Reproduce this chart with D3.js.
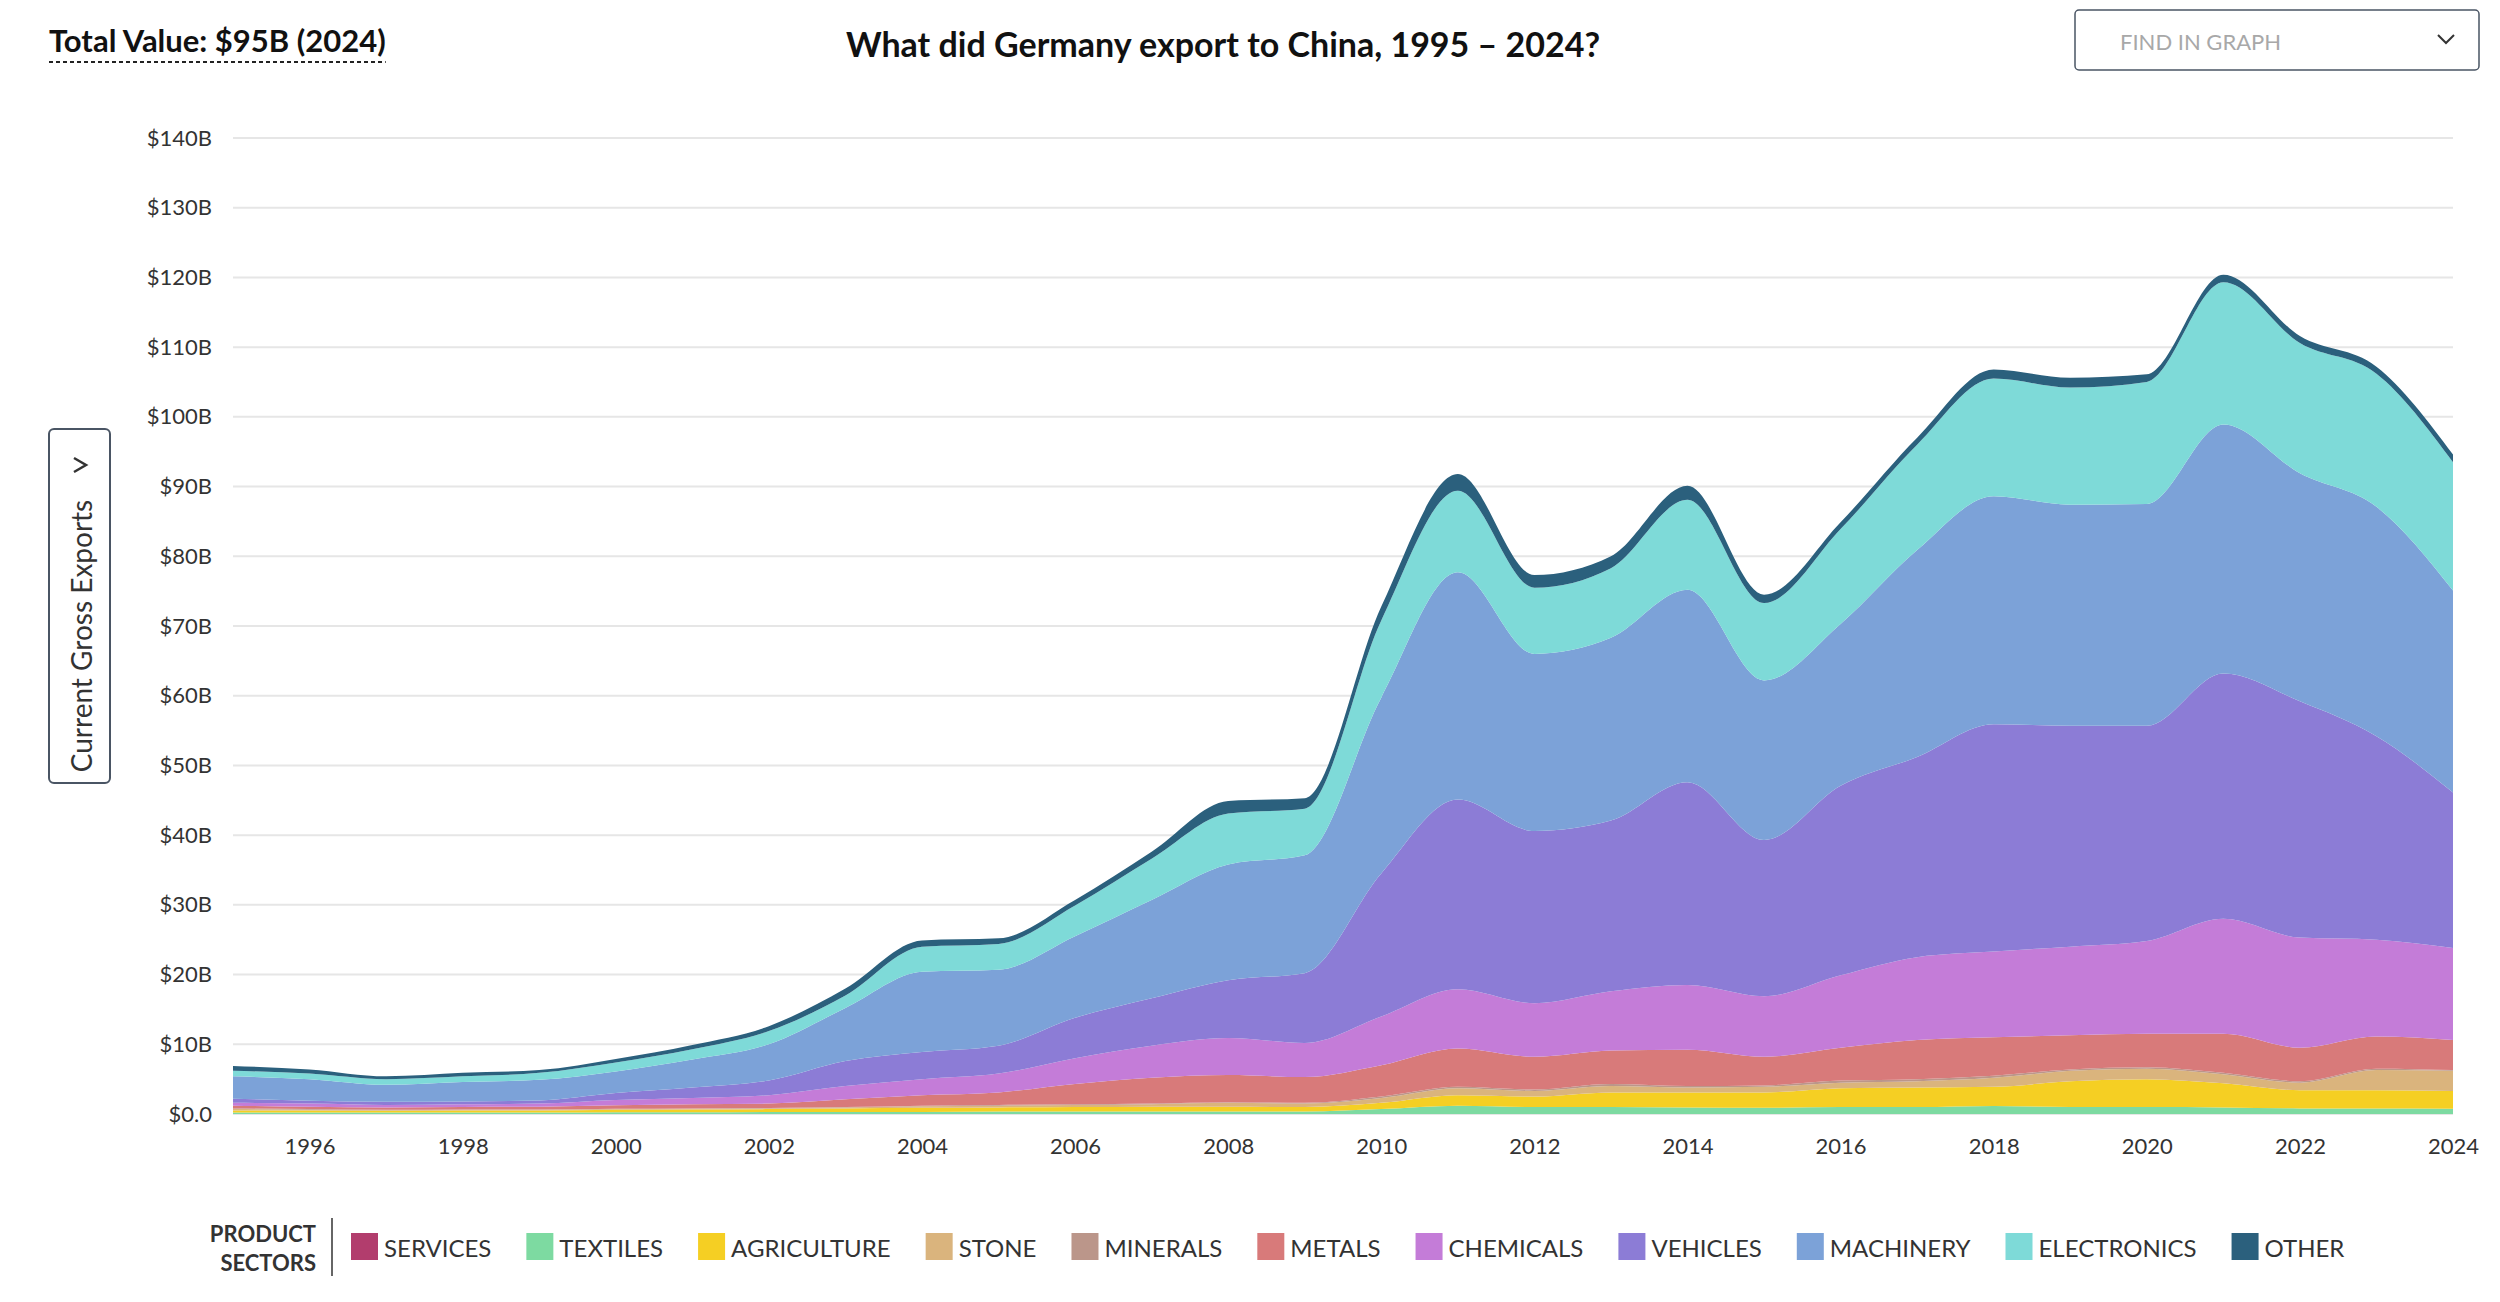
<!DOCTYPE html>
<html>
<head>
<meta charset="utf-8">
<script src="https://cdn.jsdelivr.net/npm/d3@7/dist/d3.min.js"></script>
<style>
  body { margin: 0; background: #fff; }
  text { font-family: Lato, "Open Sans", sans-serif; }
</style>
</head>
<body>
<svg id="chart" width="2500" height="1302"></svg>
<script>
// years on the x axis
var years = [1995, 1996, 1997, 1998, 1999, 2000, 2001, 2002, 2003, 2004,
             2005, 2006, 2007, 2008, 2009, 2010, 2011, 2012, 2013, 2014,
             2015, 2016, 2017, 2018, 2019, 2020, 2021, 2022, 2023, 2024];

// product sectors, bottom to top of the stack
var sectors = ["services", "textiles", "agriculture", "stone", "minerals", "metals",
               "chemicals", "vehicles", "machinery", "electronics", "other"];
var sectorLabels = ["SERVICES", "TEXTILES", "AGRICULTURE", "STONE", "MINERALS", "METALS",
                    "CHEMICALS", "VEHICLES", "MACHINERY", "ELECTRONICS", "OTHER"];
var sectorColors = ["#b23d6d", "#7ddaa1", "#f5cf23", "#dab47d", "#bb968a", "#d87a7a",
                    "#c47cd8", "#8c7cd6", "#7ca2d8", "#7edad8", "#2b607d"];

// export values per sector, $B
var services    = [0, 0, 0, 0, 0, 0, 0, 0, 0, 0, 0, 0, 0, 0, 0, 0, 0, 0, 0, 0, 0, 0, 0, 0, 0, 0, 0, 0, 0, 0];
var textiles    = [0.2, 0.2, 0.2, 0.2, 0.2, 0.25, 0.25, 0.3, 0.3, 0.3, 0.35, 0.35, 0.35, 0.35, 0.35,
                   0.7, 1.2, 1.0, 1.0, 0.95, 0.9, 1.0, 1.0, 1.15, 1.0, 1.0, 0.95, 0.8, 0.8, 0.75];
var agriculture = [0.3, 0.3, 0.25, 0.3, 0.3, 0.35, 0.4, 0.4, 0.5, 0.6, 0.6, 0.65, 0.7, 0.7, 0.65,
                   0.9, 1.5, 1.5, 2.1, 2.15, 2.2, 2.7, 2.8, 2.75, 3.7, 4.0, 3.45, 2.6, 2.6, 2.55];
var stone       = [0.2, 0.1, 0.1, 0.1, 0.1, 0.1, 0.1, 0.1, 0.15, 0.2, 0.25, 0.3, 0.35, 0.55, 0.5,
                   0.7, 1.0, 0.8, 0.9, 0.7, 0.8, 0.8, 0.9, 1.3, 1.5, 1.5, 1.3, 1.1, 2.9, 2.9];
var minerals    = [0.1, 0.1, 0.05, 0.05, 0.05, 0.05, 0.05, 0.05, 0.05, 0.1, 0.1, 0.1, 0.1, 0.1, 0.1,
                   0.2, 0.2, 0.2, 0.3, 0.2, 0.2, 0.3, 0.3, 0.3, 0.2, 0.2, 0.2, 0.2, 0.2, 0.1];
var metals      = [0.4, 0.35, 0.35, 0.35, 0.4, 0.5, 0.6, 0.65, 1.1, 1.5, 1.8, 2.9, 3.7, 3.9, 3.7,
                   4.5, 5.5, 4.7, 4.8, 5.2, 4.1, 4.7, 5.6, 5.5, 4.9, 4.8, 5.6, 4.8, 4.6, 4.3];
var chemicals   = [0.4, 0.45, 0.35, 0.4, 0.45, 0.75, 0.9, 1.2, 1.9, 2.3, 2.7, 3.7, 4.6, 5.3, 4.9,
                   7.0, 8.5, 7.7, 8.5, 9.3, 8.7, 10.4, 11.9, 12.3, 12.7, 13.3, 16.5, 15.8, 13.9, 13.2];
var vehicles    = [0.6, 0.4, 0.45, 0.4, 0.45, 1.0, 1.5, 2.1, 3.6, 3.9, 4.0, 5.8, 6.8, 8.3, 10.0,
                   20.5, 27.2, 24.7, 24.5, 29.1, 22.4, 27.2, 28.7, 32.6, 31.7, 30.9, 35.2, 33.9, 29.2, 22.3];
var machinery   = [3.2, 3.1, 2.45, 2.8, 2.95, 3.1, 4.0, 5.2, 7.6, 11.5, 10.9, 11.7, 14.1, 16.6, 16.9,
                   25.2, 32.6, 25.4, 26.2, 27.6, 22.9, 23.2, 29.7, 32.7, 31.7, 31.8, 35.7, 32.7, 32.9, 29.0];
var electronics = [0.8, 0.8, 0.8, 0.8, 1.0, 1.3, 1.5, 1.9, 1.8, 3.6, 3.7, 4.4, 5.9, 7.3, 6.7,
                   11.1, 11.7, 9.5, 10.0, 12.9, 11.1, 13.6, 15.1, 16.9, 16.8, 17.5, 20.4, 18.7, 19.1, 18.4];
var other       = [0.7, 0.6, 0.4, 0.5, 0.4, 0.5, 0.6, 0.7, 1.0, 0.9, 0.8, 0.8, 1.0, 1.8, 1.5,
                   2.0, 2.4, 1.8, 1.7, 2.0, 1.2, 1.0, 1.0, 1.3, 1.4, 1.1, 1.1, 1.0, 1.0, 1.1];

var yTicks = [0, 10, 20, 30, 40, 50, 60, 70, 80, 90, 100, 110, 120, 130, 140];
var xTicks = [1996, 1998, 2000, 2002, 2004, 2006, 2008, 2010, 2012, 2014, 2016, 2018, 2020, 2022, 2024];

var seriesValues = [services, textiles, agriculture, stone, minerals, metals,
                    chemicals, vehicles, machinery, electronics, other];

// rows for d3.stack
var rows = years.map(function (yr, i) {
    var r = { year: yr };
    sectors.forEach(function (s, k) { r[s] = seriesValues[k][i]; });
    return r;
});

var svg = d3.select("#chart");

var margin = { top: 138, right: 47, bottom: 188, left: 233 },
    width = 2500 - margin.left - margin.right,
    height = 1302 - margin.top - margin.bottom;

var x = d3.scaleLinear().domain([1995, 2024]).range([margin.left, margin.left + width]);
var y = d3.scaleLinear().domain([0, 140]).range([margin.top + height, margin.top]);

// gridlines
svg.append("g")
    .selectAll("line")
    .data(yTicks)
    .enter().append("line")
    .attr("x1", x(1995))
    .attr("x2", x(2024))
    .attr("y1", function (d) { return y(d); })
    .attr("y2", function (d) { return y(d); })
    .attr("stroke", "#e6e6e6")
    .attr("stroke-width", 2);

// stacked areas
var stack = d3.stack().keys(sectors);
var layers = stack(rows);

var area = d3.area()
    .x(function (d) { return x(d.data.year); })
    .y0(function (d) { return y(d[0]); })
    .y1(function (d) { return y(d[1]); })
    .curve(d3.curveMonotoneX);

svg.append("g")
    .selectAll("path")
    .data(layers)
    .enter().append("path")
    .attr("d", area)
    .attr("fill", function (d, i) { return sectorColors[i]; });

// y axis
var yAxis = svg.append("g")
    .attr("transform", "translate(" + x(1995) + ",0)")
    .call(d3.axisLeft(y)
        .tickValues(yTicks)
        .tickSize(0)
        .tickPadding(21)
        .tickFormat(function (d) { return d === 0 ? "$0.0" : "$" + d + "B"; }));
yAxis.select(".domain").remove();
yAxis.selectAll("text")
    .attr("font-family", "Lato, sans-serif")
    .attr("font-size", 22)
    .attr("fill", "#333");

// x axis
var xAxis = svg.append("g")
    .attr("transform", "translate(0," + y(0) + ")")
    .call(d3.axisBottom(x)
        .tickValues(xTicks)
        .tickSize(0)
        .tickPadding(24)
        .tickFormat(function (d) { return d; }));
xAxis.select(".domain").remove();
xAxis.selectAll("text")
    .attr("font-family", "Lato, sans-serif")
    .attr("font-size", 22)
    .attr("fill", "#333");

// title
svg.append("text")
    .attr("x", 1223)
    .attr("y", 43)
    .attr("text-anchor", "middle")
    .attr("dominant-baseline", "central")
    .attr("font-size", 34)
    .attr("font-weight", 700)
    .attr("fill", "#111")
    .text("What did Germany export to China, 1995 \u2013 2024?");

// total value with dotted underline
var total = svg.append("text")
    .attr("x", 49)
    .attr("y", 40)
    .attr("dominant-baseline", "central")
    .attr("font-size", 31)
    .attr("font-weight", 700)
    .attr("fill", "#111")
    .text("Total Value: $95B (2024)");
var tw = total.node().getComputedTextLength();
svg.append("line")
    .attr("x1", 49).attr("x2", 49 + tw)
    .attr("y1", 62).attr("y2", 62)
    .attr("stroke", "#222")
    .attr("stroke-width", 2)
    .attr("stroke-dasharray", "4,3");

// find in graph box
svg.append("rect")
    .attr("x", 2075).attr("y", 10)
    .attr("width", 404).attr("height", 60)
    .attr("rx", 4)
    .attr("fill", "#fff")
    .attr("stroke", "#4a5564")
    .attr("stroke-width", 1.5);
svg.append("text")
    .attr("x", 2120).attr("y", 41)
    .attr("dominant-baseline", "central")
    .attr("font-size", 22)
    .attr("fill", "#a8a8a8")
    .text("FIND IN GRAPH");
svg.append("path")
    .attr("d", "M2438,35 L2446,43 L2454,35")
    .attr("fill", "none")
    .attr("stroke", "#333")
    .attr("stroke-width", 2);

// y-axis selector button
svg.append("rect")
    .attr("x", 49).attr("y", 429)
    .attr("width", 61).attr("height", 354)
    .attr("rx", 5)
    .attr("fill", "#fff")
    .attr("stroke", "#4a5564")
    .attr("stroke-width", 2);
svg.append("text")
    .attr("transform", "translate(81,636) rotate(-90)")
    .attr("text-anchor", "middle")
    .attr("dominant-baseline", "central")
    .attr("font-size", 28)
    .attr("fill", "#333")
    .text("Current Gross Exports");
svg.append("path")
    .attr("d", "M74,458 L86,465 L74,472")
    .attr("fill", "none")
    .attr("stroke", "#333")
    .attr("stroke-width", 2.5);

// legend
var legend = svg.append("g");
legend.append("text")
    .attr("x", 316).attr("y", 1233)
    .attr("text-anchor", "end")
    .attr("dominant-baseline", "central")
    .attr("font-size", 22)
    .attr("font-weight", 700)
    .attr("fill", "#333")
    .text("PRODUCT");
legend.append("text")
    .attr("x", 316).attr("y", 1262)
    .attr("text-anchor", "end")
    .attr("dominant-baseline", "central")
    .attr("font-size", 22)
    .attr("font-weight", 700)
    .attr("fill", "#333")
    .text("SECTORS");
legend.append("line")
    .attr("x1", 332).attr("x2", 332)
    .attr("y1", 1218).attr("y2", 1276)
    .attr("stroke", "#333")
    .attr("stroke-width", 1.5);

var lx = 351;
sectorLabels.forEach(function (lab, i) {
    legend.append("rect")
        .attr("x", lx).attr("y", 1233)
        .attr("width", 27).attr("height", 27)
        .attr("fill", sectorColors[i]);
    var t = legend.append("text")
        .attr("x", lx + 33).attr("y", 1247)
        .attr("dominant-baseline", "central")
        .attr("font-size", 24)
        .attr("fill", "#333")
        .text(lab);
    lx = lx + 33 + t.node().getComputedTextLength() + 35;
});
</script>
</body>
</html>
